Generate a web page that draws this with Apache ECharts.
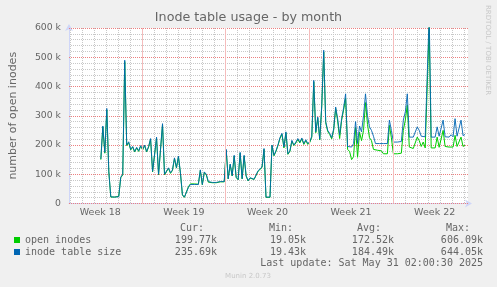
<!DOCTYPE html>
<html><head><meta charset="utf-8">
<script src="https://cdn.jsdelivr.net/npm/echarts@6/dist/echarts.min.js"></script>
<style>html,body{margin:0;padding:0;background:#f0f0f0;}#c{width:497px;height:287px;}</style>
</head><body><div id="c"></div>
<script>
const chartTitle = 'Inode table usage - by month';
const yAxisName = 'number of open inodes';
const seriesNames = ['open inodes', 'inode table size'];
const seriesColors = ['#00cc00', '#0066b3'];

// time in hours relative to the start of the Week 19 grid line; one sample every 4 hours
const firstSampleHour = -83;
const sampleStepHours = 4;

// values in thousands (k)
const openInodes = [
  150,262,172,320,108,22,21,22,25,25,88,98,485,198,208,183,193,176,190,178,
  196,183,198,176,193,220,108,111,224,98,95,270,98,96,120,103,113,154,121,160,
  103,29,21,21,57,67,64,67,65,66,113,64,106,98,73,69,71,72,71,72,
  74,71,74,182,84,133,94,162,89,81,172,84,162,94,77,87,81,82,84,110,
  108,123,185,21,21,21,198,163,178,198,222,237,190,242,168,178,213,198,207,219,
  207,221,202,215,202,209,227,416,242,292,217,330,518,276,246,236,221,251,325,282,
  222,285,320,360,185,178,150,160,260,158,244,215,250,345,270,225,215,185,182,182,
  182,180,170,170,170,267,225,170,170,170,170,172,250,285,336,193,188,188,190,227,
  215,195,210,190,195,606,190,190,190,227,192,190,250,195,193,193,193,193,233,195,
  193,227,195,200
];
const inodeTableSize = [
  152,265,175,325,110,23,22,22,23,23,90,100,490,200,211,185,195,178,192,180,
  198,185,200,178,195,222,110,113,227,100,97,273,100,98,122,105,115,156,123,162,
  105,30,22,22,55,65,62,65,63,65,115,65,108,100,75,70,72,73,72,73,
  75,72,75,185,85,135,95,165,90,82,175,85,165,95,78,88,82,83,85,112,
  110,125,188,22,22,22,200,165,180,200,225,240,193,245,170,180,216,200,210,222,
  210,224,205,218,205,212,230,421,245,296,220,335,524,280,250,240,225,255,330,290,
  235,290,327,375,195,200,193,205,280,205,265,245,300,375,300,262,250,230,205,205,
  205,205,205,205,205,285,250,210,210,210,210,212,285,313,375,227,227,227,228,262,
  250,230,232,228,230,644,227,227,227,262,230,227,285,228,227,227,235,228,290,230,
  227,285,232,236
];

const weekLabels = ['Week 18', 'Week 19', 'Week 20', 'Week 21', 'Week 22'];
const weekLabelHours = [-84, 84, 252, 420, 588];
const weekLineHours = [0, 168, 336, 504];
const xMinHour = -147, xMaxHour = 655;
const dayLineHours = [];
for (let h = -144; h <= 648; h += 24) if (h % 168 !== 0) dayLineHours.push(h);

const yMax = 600;
const yMinorLines = [];
for (let v = 20; v < yMax; v += 20) if (v % 100 !== 0) yMinorLines.push(v);

const statHeaders = ['Cur:', 'Min:', 'Avg:', 'Max:'];
const openStats = ['199.77k', '19.05k', '172.52k', '606.09k'];
const tableStats = ['235.69k', '19.43k', '184.49k', '644.05k'];
const lastUpdate = 'Last update: Sat May 31 02:00:30 2025';
const footerText = 'Munin 2.0.73';
const watermark = 'RRDTOOL / TOBI OETIKER';

const toPoints = arr => arr.map((v, i) => [firstSampleHour + i * sampleStepHours, v]);

const FONT = '"DejaVu Sans", sans-serif';
const MONO = '"DejaVu Sans Mono", monospace';
const TXT = '#666666';
const AXIS = '#cfd6f8';
const GRID = '#c8c8c8';
const MGRID = '#ec8080';
const MGRID_SOFT = '#f5bcbc';

const headerRight = [204, 293, 381, 470];
const valueRight = [217, 306, 394, 483];
const graphics = [];
statHeaders.forEach((t, i) => graphics.push({type: 'text', x: headerRight[i], y: 228,
  style: {text: t, align: 'right', verticalAlign: 'middle', font: '10px ' + MONO, fill: TXT}}));
[openStats, tableStats].forEach((row, r) => row.forEach((t, i) => graphics.push({type: 'text',
  x: valueRight[i], y: 240 + r * 12,
  style: {text: t, align: 'right', verticalAlign: 'middle', font: '10px ' + MONO, fill: TXT}})));
graphics.push({type: 'text', x: 483, y: 263.5,
  style: {text: lastUpdate, align: 'right', verticalAlign: 'middle', font: '10px ' + MONO, fill: TXT}});
graphics.push({type: 'text', x: 248, y: 276,
  style: {text: footerText, align: 'center', verticalAlign: 'middle', font: '7px ' + FONT, fill: '#c8c8c8'}});
graphics.push({type: 'text', x: 488, y: 5, rotation: -Math.PI / 2,
  style: {text: watermark, align: 'left', verticalAlign: 'middle', font: '7px ' + FONT, fill: '#c8c8c8'}});

const chart = echarts.init(document.getElementById('c'), null, {renderer: 'canvas'});
chart.setOption({
  animation: false,
  backgroundColor: '#f0f0f0',
  title: {text: chartTitle, left: 'center', top: 11, padding: 0,
    textStyle: {fontFamily: FONT, fontSize: 12.7, fontWeight: 'normal', color: TXT}},
  grid: {left: 67, right: 29, top: 28, bottom: 83.5, show: true, backgroundColor: '#ffffff', borderWidth: 0},
  legend: {data: seriesNames, orient: 'vertical', left: 14, top: 234, padding: 0, itemGap: 0,
    icon: 'rect', itemWidth: 6, itemHeight: 6, selectedMode: false,
    textStyle: {fontFamily: MONO, fontSize: 10, color: TXT, lineHeight: 12}},
  xAxis: [
    {type: 'value', min: xMinHour, max: xMaxHour, position: 'bottom', z: 1,
      axisLine: {show: true, onZero: false, lineStyle: {color: AXIS, width: 1}, symbol: ['none', 'arrow'], symbolSize: [6, 7], symbolOffset: [0, 4]},
      axisTick: {show: false, customValues: dayLineHours},
      axisLabel: {show: false},
      splitLine: {show: true, lineStyle: {color: GRID, type: [1, 1], width: 1}}},
    {type: 'value', min: xMinHour, max: xMaxHour, position: 'bottom', z: 2,
      axisLine: {show: false, onZero: false},
      axisTick: {show: false, customValues: weekLabelHours},
      axisLabel: {show: true, customValues: weekLabelHours, margin: 4, fontFamily: FONT, fontSize: 9.5, color: TXT,
        formatter: v => weekLabels[weekLabelHours.indexOf(v)] || ''},
      splitLine: {show: false}}
  ],
  yAxis: [
    {type: 'value', min: 0, max: yMax, position: 'left', z: 1,
      name: yAxisName, nameLocation: 'middle', nameGap: 50, nameRotate: 90,
      nameTextStyle: {fontFamily: FONT, fontSize: 11, color: TXT},
      axisLine: {show: true, onZero: false, lineStyle: {color: AXIS, width: 1}, symbol: ['none', 'arrow'], symbolSize: [6, 7], symbolOffset: [0, 4]},
      axisTick: {show: false, customValues: yMinorLines}, axisLabel: {show: false},
      splitLine: {show: true, lineStyle: {color: GRID, type: [1, 1], width: 1}}},
    {type: 'value', min: 0, max: yMax, interval: 100, position: 'left', z: 2,
      axisLine: {show: false, onZero: false}, axisTick: {show: false},
      axisLabel: {show: true, margin: 8, fontFamily: FONT, fontSize: 9.3, color: TXT,
        formatter: v => v === 0 ? '0' : v + ' k'},
      splitLine: {show: true, lineStyle: {color: MGRID, type: [1, 1], width: 1}}}
  ],
  series: [
    {name: seriesNames[0], type: 'line', xAxisIndex: 0, yAxisIndex: 0, data: toPoints(openInodes),
      showSymbol: false, symbol: 'none', color: seriesColors[0], lineStyle: {width: 1, color: seriesColors[0]}, z: 3,
      markLine: {silent: true, symbol: 'none', animation: false, label: {show: false},
        lineStyle: {color: MGRID_SOFT, type: 'solid', width: 1},
        data: weekLineHours.map(h => ({xAxis: h}))}},
    {name: seriesNames[1], type: 'line', xAxisIndex: 0, yAxisIndex: 0, data: toPoints(inodeTableSize),
      showSymbol: false, symbol: 'none', color: seriesColors[1], lineStyle: {width: 1, color: seriesColors[1], opacity: 0.9}, z: 4}
  ],
  graphic: graphics
});
</script></body></html>
